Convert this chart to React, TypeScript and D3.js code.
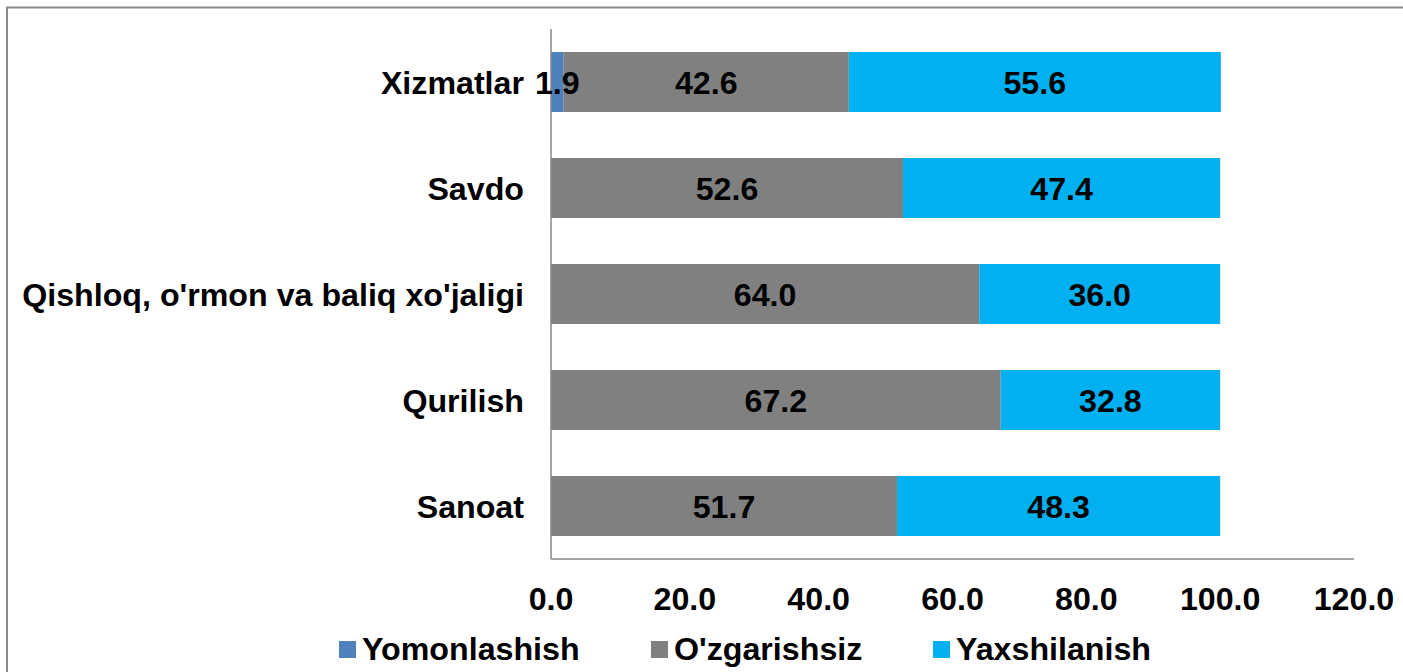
import React from "react";
import * as d3 from "d3";

const categories = ["Xizmatlar", "Savdo", "Qishloq, o'rmon va baliq xo'jaligi", "Qurilish", "Sanoat"];
const seriesNames = ["Yomonlashish", "O'zgarishsiz", "Yaxshilanish"];
const yomonlashish = [1.9, 0, 0, 0, 0];
const ozgarishsiz = [42.6, 52.6, 64.0, 67.2, 51.7];
const yaxshilanish = [55.6, 47.4, 36.0, 32.8, 48.3];
const xTicks = [0, 20, 40, 60, 80, 100, 120];
const colors = ["#4F81BD", "#808080", "#00B0F0"];

const W = 1403;
const H = 672;
const FONT = "'Liberation Sans', Arial, sans-serif";
const FS = 32.2;

export default function App() {
  const seriesValues = [yomonlashish, ozgarishsiz, yaxshilanish];

  // plot area
  const left = 551, right = 1354, top = 29, bottom = 559;

  const x = d3.scaleLinear().domain([0, 120]).range([left, right]);
  const y = d3.scaleBand<string>()
    .domain(categories)
    .range([top, bottom])
    .paddingInner(0.434)
    .paddingOuter(0.217);

  const rows = categories.map((c, i) => {
    const obj: Record<string, any> = { cat: c };
    seriesNames.forEach((s, k) => (obj[s] = seriesValues[k][i]));
    return obj;
  });
  const stacked = d3.stack<any>().keys(seriesNames)(rows);

  const legendX = [339, 651, 933];

  return (
    <svg width={W} height={H} style={{ position: "fixed", left: 0, top: 0, background: "#fff" }}>
      <rect x={7} y={7.5} width={W + 20} height={H + 20} fill="#fff" stroke="#898989" strokeWidth={2} />

      {stacked.map((layer, k) => (
        <g key={layer.key}>
          {layer.map((d, i) => {
            const v = d[1] - d[0];
            if (v <= 0) return null;
            const x0 = x(d[0]);
            const x1 = x(d[1]);
            const yy = y(categories[i])!;
            return <rect key={i} x={x0} y={yy} width={x1 - x0} height={y.bandwidth()} fill={colors[k]} />;
          })}
        </g>
      ))}

      {/* axes */}
      <line x1={left} x2={left} y1={top} y2={bottom} stroke="#868686" strokeWidth={1.5} />
      <line x1={left} x2={right} y1={bottom} y2={bottom} stroke="#868686" strokeWidth={1.5} />

      {/* data labels */}
      {stacked.map((layer, k) => (
        <g key={"l" + layer.key}>
          {layer.map((d, i) => {
            const v = d[1] - d[0];
            if (v <= 0) return null;
            const cx = (x(d[0]) + x(d[1])) / 2;
            const cy = y(categories[i])! + y.bandwidth() / 2;
            return (
              <text key={i} x={cx} y={cy + 11.5} textAnchor="middle" fontFamily={FONT} fontWeight="bold" fontSize={FS} fill="#000">
                {d3.format(".1f")(seriesValues[k][i])}
              </text>
            );
          })}
        </g>
      ))}

      {/* category labels */}
      {categories.map((c) => (
        <text key={c} x={524} y={y(c)! + y.bandwidth() / 2 + 11.5} textAnchor="end" fontFamily={FONT} fontWeight="bold" fontSize={FS} fill="#000">
          {c}
        </text>
      ))}

      {/* x tick labels */}
      {xTicks.map((t) => (
        <text key={t} x={x(t)} y={610} textAnchor="middle" fontFamily={FONT} fontWeight="bold" fontSize={FS} fill="#000">
          {d3.format(".1f")(t)}
        </text>
      ))}

      {/* legend */}
      {seriesNames.map((s, k) => (
        <g key={s} transform={`translate(${legendX[k]},641)`}>
          <rect x={0} y={0} width={17} height={17} fill={colors[k]} />
          <text x={23} y={19} fontFamily={FONT} fontWeight="bold" fontSize={FS} fill="#000">
            {s}
          </text>
        </g>
      ))}
    </svg>
  );
}
